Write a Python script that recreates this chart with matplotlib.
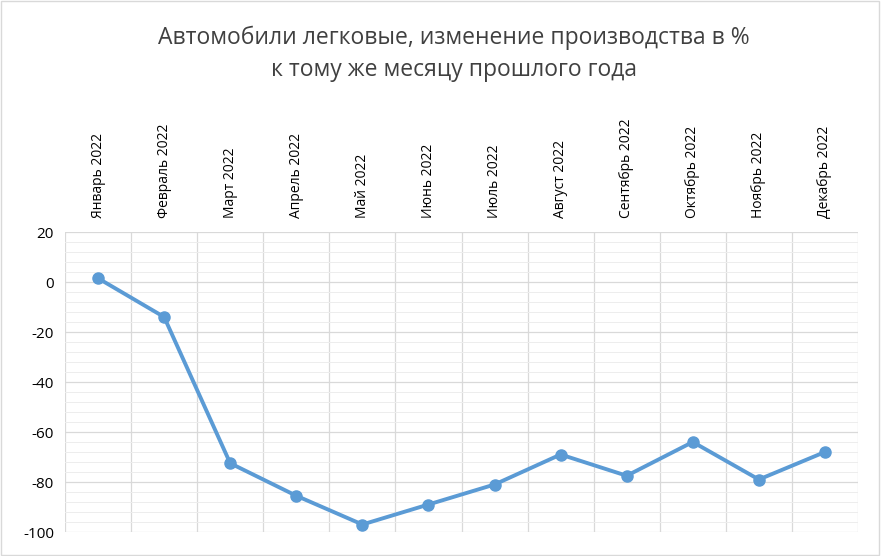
import matplotlib.pyplot as plt
import numpy as np
from matplotlib.ticker import MultipleLocator
from matplotlib.patches import Rectangle

months = ["Январь 2022", "Февраль 2022", "Март 2022", "Апрель 2022", "Май 2022",
          "Июнь 2022", "Июль 2022", "Август 2022", "Сентябрь 2022", "Октябрь 2022",
          "Ноябрь 2022", "Декабрь 2022"]
values = [1.5, -14, -72.5, -85.5, -97, -89, -81, -69, -77.5, -64, -79, -68]

plt.rcParams['font.family'] = ['Open Sans', 'DejaVu Sans']
plt.rcParams['axes.unicode_minus'] = False
fig = plt.figure(figsize=(8.81, 5.56), dpi=100)
ax = fig.add_axes([65 / 881, 24 / 556, 793 / 881, 300 / 556])

x = np.arange(len(months))
ax.plot(x, values, color="#5B9BD5", lw=2.8, marker="o", ms=8, zorder=3)

ax.set_xlim(-0.5, len(months) - 0.5)
ax.set_ylim(-100, 20)
ax.yaxis.set_major_locator(MultipleLocator(20))
ax.yaxis.set_minor_locator(MultipleLocator(4))
ax.set_xticks(x)
ax.set_xticklabels(months, rotation=90, fontsize=10, color="#000000")
ax.xaxis.tick_top()
ax.set_xticks(np.arange(-0.5, len(months), 1), minor=True)
ax.tick_params(axis="x", which="both", length=0, pad=10)
ax.tick_params(axis="y", which="both", length=0, labelsize=11, labelcolor="#000000", pad=8)
ax.grid(axis="y", which="major", color="#D9D9D9", lw=0.9)
ax.grid(axis="y", which="minor", color="#EDEDED", lw=0.7)
ax.grid(axis="x", which="minor", color="#D9D9D9", lw=0.9)
for s in ax.spines.values():
    s.set_visible(False)

fig.text(0.515, 0.903, "Автомобили легковые, изменение производства в %\nк тому же месяцу прошлого года",
         ha="center", va="center", fontsize=16.5, color="#404040", linespacing=1.45)
fig.patches.append(Rectangle((0.001, 0.001), 0.997, 0.997, transform=fig.transFigure,
                             fill=False, edgecolor="#D9D9D9", lw=1))

fig.savefig("out.png", dpi=100)
